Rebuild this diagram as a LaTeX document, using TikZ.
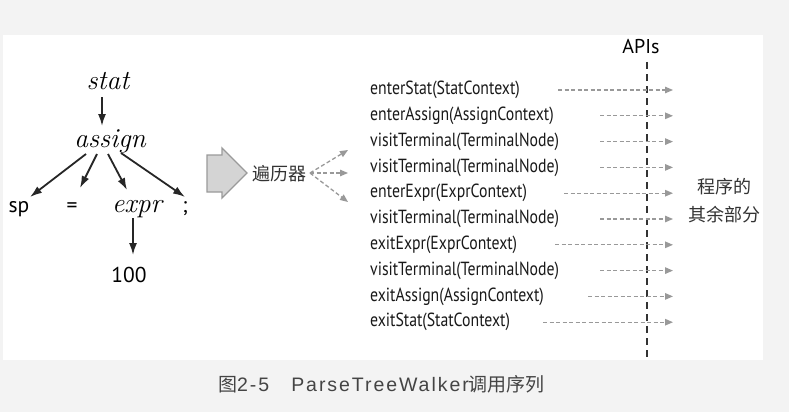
\documentclass[tikz,border=0pt]{standalone}
\usepackage{fontspec}
\usetikzlibrary{arrows.meta}
\newfontfamily\cjk{Noto Sans CJK SC}
\newfontfamily\lblfont[FakeStretch=0.83]{PT Sans}
\newfontfamily\ptsans{PT Sans}
\newfontfamily\capfont[LetterSpace=10]{Liberation Sans}
\definecolor{bggray}{HTML}{F3F3F3}
\definecolor{dashgray}{HTML}{999999}
\definecolor{apiline}{HTML}{333333}
\definecolor{blockfill}{HTML}{D4D4D4}
\definecolor{blockdraw}{HTML}{9A9A9A}
\definecolor{captext}{HTML}{444444}
\begin{document}
\begin{tikzpicture}[x=1pt,y=-1pt,
  treeit/.style={font=\fontsize{27.5}{30}\selectfont\itshape, inner sep=0pt, anchor=base},
  treesf/.style={font=\ptsans\fontsize{21.5}{24}\selectfont, inner sep=0pt, anchor=base},
  treearrow/.style={line width=1.8pt, black!85, -{Latex[length=12pt,width=8pt]}},
  lbl/.style={font=\lblfont\fontsize{19}{21}\selectfont, text=black!90, inner sep=0pt, anchor=west},
  callarrow/.style={dashgray, line width=1.3pt, dash pattern=on 4pt off 2.5pt, -{Triangle[length=8pt,width=6.5pt]}},
  cjktext/.style={font=\cjk\fontsize{18}{20}\selectfont, text=black!80, inner sep=0pt}
]
\useasboundingbox (0,0) rectangle (789,412);
\fill[bggray] (0,0) rectangle (789,412);
\fill[white] (3,35) rectangle (763,360);

% parse tree
\node[treeit] (stat) at (108,89) {stat};
\node[treeit] (assign) at (110,147) {assign};
\node[treesf] (sp) at (19,212) {sp};
\node[treesf] (eq) at (72,212) {=};
\node[treeit] (expr) at (137,212) {expr};
\node[treesf] (semi) at (185,212) {;};
\node[treesf] (num) at (129,282) {100};

\coordinate (t1s) at (102,97);  \coordinate (t1e) at (102,126);
\coordinate (t2s) at (86,154);  \coordinate (t2e) at (30,197);
\coordinate (t3s) at (97,154);  \coordinate (t3e) at (80,188);
\coordinate (t4s) at (108,154); \coordinate (t4e) at (127,190);
\coordinate (t5s) at (121,153); \coordinate (t5e) at (185,197);
\coordinate (t6s) at (133,218); \coordinate (t6e) at (133,255);
\draw[treearrow] (t1s) -- (t1e);
\draw[treearrow] (t2s) -- (t2e);
\draw[treearrow] (t3s) -- (t3e);
\draw[treearrow] (t4s) -- (t4e);
\draw[treearrow] (t5s) -- (t5e);
\draw[treearrow] (t6s) -- (t6e);

% block arrow
\draw[fill=blockfill, draw=blockdraw, line width=1.3pt, line join=miter]
  (207,155) -- (222,155) -- (222,148) -- (247,173) -- (222,198) -- (222,192) -- (207,192) -- cycle;

% walker
\node[cjktext] (walker) at (279,174) {遍历器};
\coordinate (w0) at (310,173);
\coordinate (w1) at (348,150);
\coordinate (w2) at (348,173);
\coordinate (w3) at (348,202);
\draw[callarrow] (w0) -- (w1);
\draw[callarrow] (w0) -- (w2);
\draw[callarrow] (w0) -- (w3);

% APIs
\node[font=\ptsans\fontsize{20}{22}\selectfont, inner sep=0pt] (apis) at (641,47) {APIs};
\coordinate (apitop) at (647,62);
\coordinate (apibot) at (647,357);
\draw[apiline, line width=2.4pt, dash pattern=on 7pt off 5pt] (apitop) -- (apibot);

% calls
\node[lbl] (c1) at (370,90.0) {enterStat(StatContext)};
\node[lbl] (c2) at (370,115.8) {enterAssign(AssignContext)};
\node[lbl] (c3) at (370,141.6) {visitTerminal(TerminalNode)};
\node[lbl] (c4) at (370,167.4) {visitTerminal(TerminalNode)};
\node[lbl] (c5) at (370,193.2) {enterExpr(ExprContext)};
\node[lbl] (c6) at (370,219.0) {visitTerminal(TerminalNode)};
\node[lbl] (c7) at (370,244.8) {exitExpr(ExprContext)};
\node[lbl] (c8) at (370,270.6) {visitTerminal(TerminalNode)};
\node[lbl] (c9) at (370,296.4) {exitAssign(AssignContext)};
\node[lbl] (c10) at (370,322.2) {exitStat(StatContext)};

\coordinate (s1) at (558,90.0);   \coordinate (e1) at (673,90.0);
\coordinate (s2) at (600,115.8);  \coordinate (e2) at (673,115.8);
\coordinate (s3) at (600,141.6);  \coordinate (e3) at (673,141.6);
\coordinate (s4) at (600,167.4);  \coordinate (e4) at (673,167.4);
\coordinate (s5) at (564,193.2);  \coordinate (e5) at (673,193.2);
\coordinate (s6) at (600,219.0);  \coordinate (e6) at (673,219.0);
\coordinate (s7) at (555,244.8);  \coordinate (e7) at (673,244.8);
\coordinate (s8) at (600,270.6);  \coordinate (e8) at (673,270.6);
\coordinate (s9) at (588,296.4);  \coordinate (e9) at (673,296.4);
\coordinate (s10) at (543,322.2); \coordinate (e10) at (673,322.2);
\foreach \k in {1,...,10} { \draw[callarrow] (s\k) -- (e\k); }

% rest of program
\node[cjktext] (rest1) at (724,187) {程序的};
\node[cjktext] (rest2) at (724,215) {其余部分};

% caption
\node[inner sep=0pt, text=captext, anchor=west] (cap) at (218,384)
  {\cjk\fontsize{19}{22}\selectfont 图\capfont\fontsize{19.5}{22}\selectfont 2-5\hspace{22pt}ParseTreeWalker\cjk\fontsize{19}{22}\selectfont 调用序列};
\end{tikzpicture}
\end{document}
